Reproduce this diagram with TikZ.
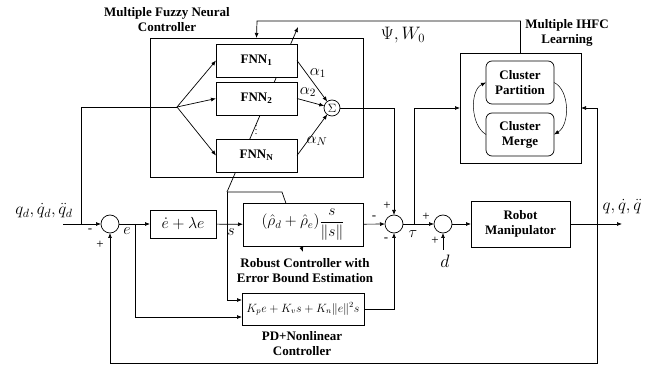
\RequirePackage{fix-cm}
\documentclass[tikz,border=0pt]{standalone}
\usepackage{fontspec}
\setmainfont{Liberation Serif}
\usetikzlibrary{arrows.meta}
\begin{document}
\begin{tikzpicture}[x=1pt,y=-1pt, line width=0.7pt,
  bx/.style={draw, fill=white, inner sep=0pt, outer sep=0pt},
  frame/.style={draw, inner sep=0pt, outer sep=0pt},
  lbl/.style={font=\bfseries\fontsize{13}{15}\selectfont, align=center, inner sep=0pt},
  sumc/.style={circle, draw, fill=white, minimum size=18pt, inner sep=0pt, outer sep=0pt},
  arr/.style={-{Latex[length=5pt,width=4pt]}},
  sg/.style={font=\fontsize{13}{13}\selectfont, inner sep=0pt},
  mth/.style={inner sep=0pt}]
\useasboundingbox (0,0) rectangle (648,371);

% adaptation lines (drawn first, boxes cover them)
\coordinate (ad0) at (227,192);
\coordinate (ad1) at (298,27);
\coordinate (ad2) at (282,192);
\coordinate (ad3) at (303,252);
\draw[arr] (ad0) -- (ad1);
\draw[arr] (ad0) -- (ad2) -- (ad3);

% Multiple fuzzy neural controller
\node[frame, minimum width=213pt, minimum height=139pt] (mfnc) at (256.5,107.5) {};
\node[lbl] (mfnct) at (167,20) {Multiple Fuzzy Neural\\Controller};
\node[bx, lbl, minimum width=81pt, minimum height=33pt] (f1) at (256.5,60.5) {FNN\textsubscript{1}};
\node[bx, lbl, minimum width=81pt, minimum height=33pt] (f2) at (256.5,98.5) {FNN\textsubscript{2}};
\node[bx, lbl, minimum width=81pt, minimum height=33pt] (fn) at (256.5,155.5) {FNN\textsubscript{N}};
\node[mth] (dots) at (256,127) {$\vdots$};
\node[circle, draw, fill=white, minimum size=16pt, inner sep=0pt, outer sep=0pt, font=\fontsize{12}{12}\selectfont] (sig) at (332,108) {$\Sigma$};
\node[mth, font=\fontsize{16}{16}\selectfont] (a1) at (318,73) {$\alpha_1$};
\node[mth, font=\fontsize{16}{16}\selectfont] (a2) at (308,92) {$\alpha_2$};
\node[mth, font=\fontsize{16}{16}\selectfont] (aN) at (317,141) {$\alpha_N$};
\coordinate (sp) at (177,107);
\draw[arr] (sp) -- (f1.west);
\draw[arr] (sp) -- (f2.west);
\draw[arr] (sp) -- (fn.west);
\draw[arr] (f1.east) -- (sig);
\draw[arr] (f2.east) -- (sig);
\draw[arr] (fn.east) -- (sig);

% IHFC learning
\node[frame, minimum width=121pt, minimum height=110pt] (ih) at (520.5,108) {};
\node[lbl] (iht) at (567,33) {Multiple IHFC\\Learning};
\node[bx, lbl, rounded corners=6pt, minimum width=68pt, minimum height=43pt] (cp) at (520,82.5) {Cluster\\Partition};
\node[bx, lbl, rounded corners=6pt, minimum width=68pt, minimum height=43pt] (cm) at (520,134.5) {Cluster\\Merge};
\draw[arr, line width=0.5pt] (cm.west) .. controls (470,125) and (470,90) .. (cp.west);
\draw[arr, line width=0.5pt] (cp.east) .. controls (570,90) and (570,125) .. (cm.east);
\node[mth, font=\fontsize{18}{18}\selectfont] (psi) at (403,35) {$\Psi, W_0$};
\coordinate (tl) at (257,21);
\draw[arr] (ih.north) |- (tl) -- (mfnc.north);

% main loop
\coordinate (in) at (63,224);
\coordinate (br) at (81,224);
\node[mth, font=\fontsize{17}{17}\selectfont] (qd) at (44,211) {$q_d,\dot q_d,\ddot q_d$};
\node[sumc] (s1) at (110,224) {};
\draw[arr] (in) -- (s1);
\draw (br) -- (br |- sp) -- (sp);
\node[sg] (m1) at (90,231) {-};
\node[sg] (p1) at (100,245) {+};
\node[bx, minimum width=66pt, minimum height=28pt, font=\fontsize{16}{16}\selectfont] (el) at (183,224) {$\dot e+\lambda e$};
\draw[arr] (s1) -- (el);
\node[mth, font=\fontsize{16}{16}\selectfont] (elab) at (127,231) {$e$};

\node[bx, minimum width=120pt, minimum height=43pt, font=\fontsize{15.5}{15.5}\selectfont] (rb) at (303,224.5) {$(\hat\rho_d+\hat\rho_e){\displaystyle\frac{s}{\|s\|}}$};
\node[lbl] (rbt) at (305,271) {Robust Controller with\\Error Bound Estimation};
\node[bx, minimum width=122pt, minimum height=32pt, font=\fontsize{12}{12}\selectfont] (pd) at (303,309) {$K_pe+K_vs+K_n\|e\|^2s$};
\node[lbl] (pdt) at (302,344) {PD+Nonlinear\\Controller};
\draw[arr] (el) -- (rb);
\node[mth, font=\fontsize{16}{16}\selectfont] (slab) at (231,232) {$s$};
\coordinate (eb) at (135,224);
\draw[arr] (eb) |- ([yshift=-8pt]pd.west);
\draw[arr] (ad0) |- ([yshift=9pt]pd.west);

\node[sumc] (s2) at (394,224) {};
\draw[arr] (rb) -- (s2);
\draw[arr] (pd.east) -| (s2.south);
\draw[arr] (sig.east) -| (s2.north);
\node[sg] (p2) at (387,206) {+};
\node[sg] (m2) at (374,218) {-};
\node[sg] (m3) at (386,240) {-};

\coordinate (tau) at (414,224);
\node[mth, font=\fontsize{16}{16}\selectfont] (taul) at (413,234) {$\tau$};
\node[sumc] (s3) at (443,224) {};
\draw[arr] (s2) -- (s3);
\draw[arr] (tau) |- (ih.west);
\node[sg] (p3) at (426,217) {+};
\node[sg] (p4) at (435,241) {+};
\coordinate (dd) at (443,250);
\draw[arr] (dd) -- (s3.south);
\node[mth, font=\fontsize{18}{18}\selectfont] (dl) at (445,261) {$d$};

\node[bx, lbl, minimum width=99pt, minimum height=46pt] (rob) at (520.5,224) {Robot\\Manipulator};
\draw[arr] (s3) -- (rob);
\coordinate (out) at (622,224);
\draw[arr] (rob) -- (out);
\node[mth, font=\fontsize{17}{17}\selectfont] (ql) at (622,207) {$q,\dot q,\ddot q$};
\coordinate (fb) at (597,224);
\coordinate (fbb) at (597,363);
\draw[arr] (fb) -- (fbb) -| (s1.south);
\draw[arr] (fb) |- (ih.east);
\end{tikzpicture}
\end{document}
